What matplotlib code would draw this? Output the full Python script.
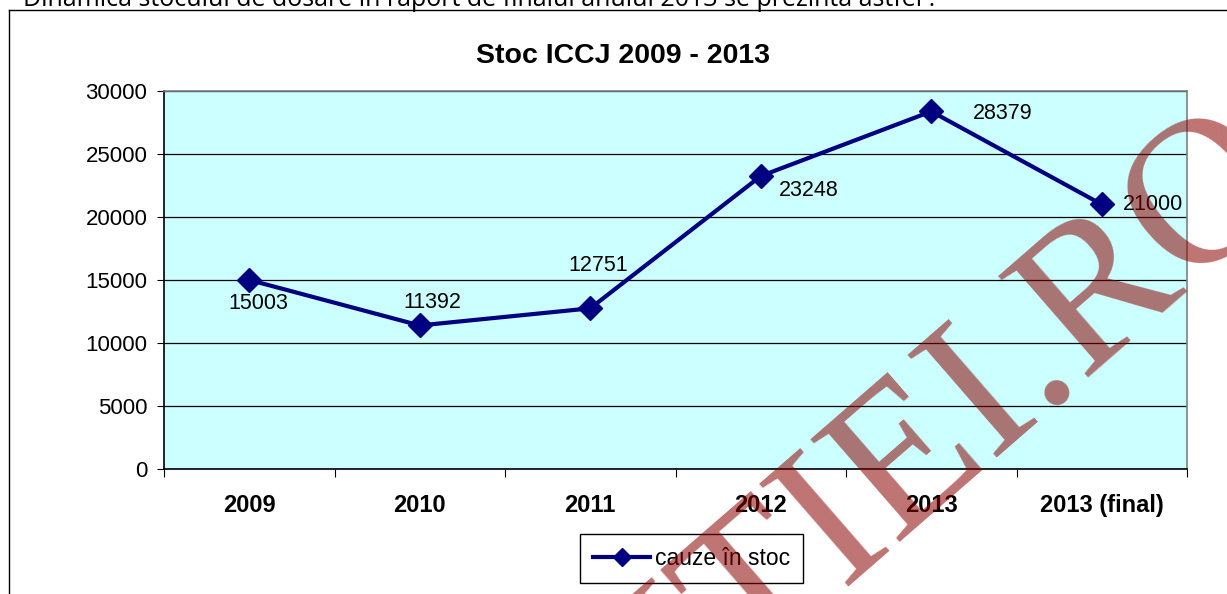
import matplotlib.pyplot as plt
from matplotlib.lines import Line2D

years = ['2009', '2010', '2011', '2012', '2013', '2013 (final)']
stoc = [15003, 11392, 12751, 23248, 28379, 21000]
y_ticks = [0, 5000, 10000, 15000, 20000, 25000, 30000]
serie = 'cauze în stoc'
titlu = 'Stoc ICCJ 2009 - 2013'
text_sus = 'Dinamica stocului de dosare în raport de finalul anului 2013 se prezintă astfel :'
watermark = 'LUMEAJUSTITIEI.RO'

# label offsets in pixels (dx, dy), same order as stoc
lbl_off = [(9, -24), (13, 23), (8, 43), (48, -14), (71, -2), (51, 0)]

W, H = 1227, 594
fig = plt.figure(figsize=(W / 100, H / 100), dpi=100)
fig.patch.set_facecolor('white')

# cut off line of text above chart
fig.text(23 / W, 1 - 6.5 / H, text_sus, fontsize=18, family='Open Sans',
         va='baseline', ha='left', color='black')

# chart border
fig.add_artist(Line2D([9 / W, 9 / W], [0, 1 - 10 / H], transform=fig.transFigure, color='black', lw=1))
fig.add_artist(Line2D([9 / W, 1], [1 - 10 / H, 1 - 10 / H], transform=fig.transFigure, color='black', lw=1))

left, right, top, bottom = 164, 1187, 91, 469
ax = fig.add_axes([left / W, 1 - bottom / H, (right - left) / W, (bottom - top) / H])
ax.set_facecolor('#CCFFFF')

x = list(range(len(years)))
ax.plot(x, stoc, color='#000080', lw=3, marker='D', markersize=12.5, zorder=3, label=serie)
for i, v in enumerate(stoc):
    ax.annotate(str(v), (i, v), xytext=lbl_off[i], textcoords='offset pixels',
                ha='center', va='center', fontsize=15.5, family='Liberation Sans', zorder=4)

ax.set_xlim(-0.5, len(years) - 0.5)
ax.set_ylim(0, 30000)
ax.set_yticks(y_ticks)
ax.set_yticklabels([str(t) for t in y_ticks], fontsize=16, family='Liberation Sans')
ax.yaxis.grid(True, color='black', lw=0.9)
ax.set_axisbelow(True)

ax.set_xticks([i + 0.5 for i in range(-1, len(years))])
ax.set_xticklabels([])
ax.set_xticks(x, minor=True)
ax.set_xticklabels(years, minor=True, fontsize=17, fontweight='bold', family='Liberation Sans')
ax.tick_params(axis='x', which='major', length=6, color='black', direction='out')
ax.tick_params(axis='x', which='minor', length=0, pad=18)
ax.tick_params(axis='y', length=5, direction='out', pad=7)

for s in ['top', 'right']:
    ax.spines[s].set_color('#808080')
    ax.spines[s].set_linewidth(1.2)
for s in ['left', 'bottom']:
    ax.spines[s].set_color('black')
    ax.spines[s].set_linewidth(1.2)

fig.text(623 / W, 1 - 56 / H, titlu, fontsize=20.5, fontweight='bold', family='Liberation Sans',
         ha='center', va='center')

leg = fig.legend(loc='center', bbox_to_anchor=(691.5 / W, 1 - 558.5 / H),
                 prop={'family': 'Liberation Sans', 'size': 16.5}, fancybox=False,
                 edgecolor='black', framealpha=1, handlelength=2.5, borderpad=0.55,
                 handletextpad=0.2, borderaxespad=0)
leg.get_frame().set_linewidth(1)
for h in leg.legend_handles:
    h.set_markersize(9)

# watermark
fig.text(1300 / W, 1 - 189 / H, watermark, fontsize=150, family='Liberation Serif',
         color='#8B0000', alpha=0.55, rotation=41, rotation_mode='anchor',
         ha='right', va='baseline', zorder=10)

fig.savefig('out.png', dpi=100)
